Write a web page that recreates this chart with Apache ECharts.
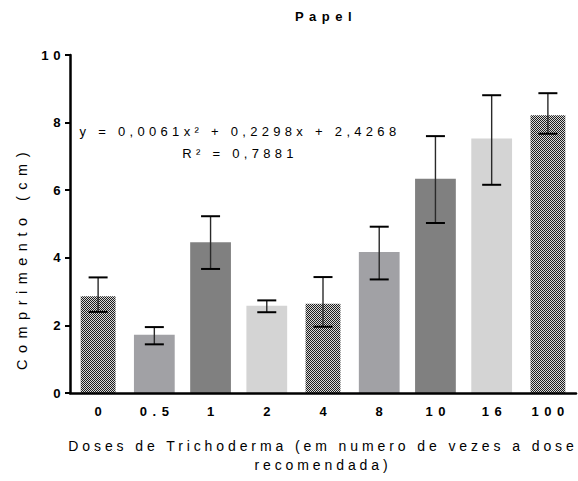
<!DOCTYPE html>
<html>
<head>
<meta charset="utf-8">
<script src="https://cdn.jsdelivr.net/npm/echarts@6/dist/echarts.min.js"></script>
<style>
  html, body { margin: 0; padding: 0; background: #ffffff; }
  #chart { width: 578px; height: 481px; }
  /* wide letter spacing, per text role (keyed on the font size / weight) */
  #chart text[style*="bold"] { letter-spacing: 5.5px; }
  #chart text[style*="13.2px"] { letter-spacing: 4.5px; }
  #chart text[style*="14px"] { letter-spacing: 3.9px; }
  #chart text[style*="13px"]:not([style*="bold"]) { letter-spacing: 4.3px; }
  #chart text[style*="14.5px"] { letter-spacing: 6.5px; }
</style>
</head>
<body>
<div id="chart"></div>
<script>
// Mean shoot length (cm) per Trichoderma dose, with error-bar limits
const chartTitle = 'Papel';
const doses = ['0', '0.5', '1', '2', '4', '8', '10', '16', '100'];
const meanLength = [2.86, 1.72, 4.46, 2.58, 2.64, 4.17, 6.34, 7.53, 8.22];
const upperLimit = [3.42, 1.95, 5.23, 2.74, 3.43, 4.92, 7.60, 8.81, 8.87];
const lowerLimit = [2.40, 1.44, 3.67, 2.39, 1.96, 3.36, 5.03, 6.16, 7.67];
const barShade = ['pattern', 'mid', 'dark', 'light', 'pattern', 'mid', 'dark', 'light', 'pattern'];
const yMin = 0, yMax = 10, yStep = 2;
const fitEquation = 'y = 0,0061x² + 0,2298x + 2,4268';
const fitR2 = 'R² = 0,7881';
const xAxisTitle = 'Doses de Trichoderma (em numero de vezes a dose\nrecomendada)';
const yAxisTitle = 'Comprimento (cm)';

const FONT = 'Liberation Sans';

// fine checkerboard used for the dithered bars
function makeChecker() {
  const c = document.createElement('canvas');
  c.width = 2; c.height = 2;
  const ctx = c.getContext('2d');
  ctx.fillStyle = '#d9d9d9'; ctx.fillRect(0, 0, 2, 2);
  ctx.fillStyle = '#1e1e1e'; ctx.fillRect(0, 0, 1, 1); ctx.fillRect(1, 1, 1, 1);
  return c;
}
const fills = {
  pattern: { image: makeChecker(), repeat: 'repeat' },
  mid: '#a1a1a5',
  dark: '#808080',
  light: '#d4d4d4'
};

const barData = doses.map((d, i) => [i, meanLength[i]]);
const errData = doses.map((d, i) => [i, lowerLimit[i], upperLimit[i]]);

function drawBar(params, api) {
  const i = api.value(0);
  const base = api.coord([i, 0]);
  const top = api.coord([i, api.value(1)]);
  const band = api.size([1, 0])[0];
  const shade = barShade[i];
  const w = band * (shade === 'pattern' ? 0.62 : 0.725);
  return {
    type: 'rect',
    shape: { x: base[0] - w / 2, y: top[1], width: w, height: base[1] - top[1] },
    style: { fill: fills[shade] }
  };
}

function drawError(params, api) {
  const i = api.value(0);
  const lo = api.coord([i, api.value(1)]);
  const hi = api.coord([i, api.value(2)]);
  const half = 9.5;
  return {
    type: 'group',
    children: [
      { type: 'line', shape: { x1: lo[0], y1: lo[1], x2: hi[0], y2: hi[1] },
        style: { stroke: '#2a2a2a', lineWidth: 1.4 } },
      { type: 'line', shape: { x1: hi[0] - half, y1: hi[1], x2: hi[0] + half, y2: hi[1] },
        style: { stroke: '#000', lineWidth: 2 } },
      { type: 'line', shape: { x1: lo[0] - half, y1: lo[1], x2: lo[0] + half, y2: lo[1] },
        style: { stroke: '#000', lineWidth: 2 } }
    ]
  };
}

const chart = echarts.init(document.getElementById('chart'), null, { renderer: 'svg' });
chart.setOption({
  animation: false,
  backgroundColor: '#ffffff',
  title: {
    text: chartTitle,
    left: 326,
    top: 10,
    textAlign: 'center',
    padding: 0,
    textStyle: { fontFamily: FONT, fontSize: 13, fontWeight: 'bold', color: '#000' }
  },
  grid: { left: 70, right: 2, top: 55, bottom: 88, containLabel: false },
  xAxis: {
    type: 'category',
    data: doses,
    z: 5,
    axisLine: { lineStyle: { color: '#000', width: 2.5 } },
    axisTick: { alignWithLabel: true, length: 4, lineStyle: { color: '#000', width: 2 } },
    axisLabel: {
      margin: 12, color: '#000', fontFamily: FONT, fontSize: 13, fontWeight: 'bold',
      padding: [0, 0, 0, 5.5]
    },
    name: xAxisTitle,
    nameLocation: 'middle',
    nameGap: 43,
    nameTextStyle: {
      fontFamily: FONT, fontSize: 14, color: '#000', lineHeight: 19,
      align: 'center', verticalAlign: 'top'
    }
  },
  yAxis: {
    type: 'value',
    min: yMin, max: yMax, interval: yStep,
    z: 5,
    splitLine: { show: false },
    axisLine: { show: true, lineStyle: { color: '#000', width: 2.5 } },
    axisTick: { show: true, length: 5, lineStyle: { color: '#000', width: 2 } },
    axisLabel: { margin: 5, color: '#000', fontFamily: FONT, fontSize: 13.2, fontWeight: 'bold' }
  },
  graphic: [
    {
      type: 'text', x: 240, y: 142,
      style: {
        text: fitEquation + '\n' + fitR2,
        fontFamily: FONT, fontSize: 13, fill: '#000',
        lineHeight: 22, textAlign: 'center', textVerticalAlign: 'middle'
      }
    },
    {
      type: 'text', x: 22, y: 258, rotation: Math.PI / 2,
      style: {
        text: yAxisTitle, fontFamily: FONT, fontSize: 14.5, fill: '#000',
        textAlign: 'center', textVerticalAlign: 'middle'
      }
    }
  ],
  series: [
    {
      type: 'custom',
      name: 'Comprimento',
      renderItem: drawBar,
      encode: { x: 0, y: 1 },
      data: barData,
      z: 2
    },
    {
      type: 'custom',
      name: 'Erro',
      renderItem: drawError,
      encode: { x: 0, y: [1, 2] },
      data: errData,
      z: 3
    }
  ]
});
</script>
</body>
</html>
